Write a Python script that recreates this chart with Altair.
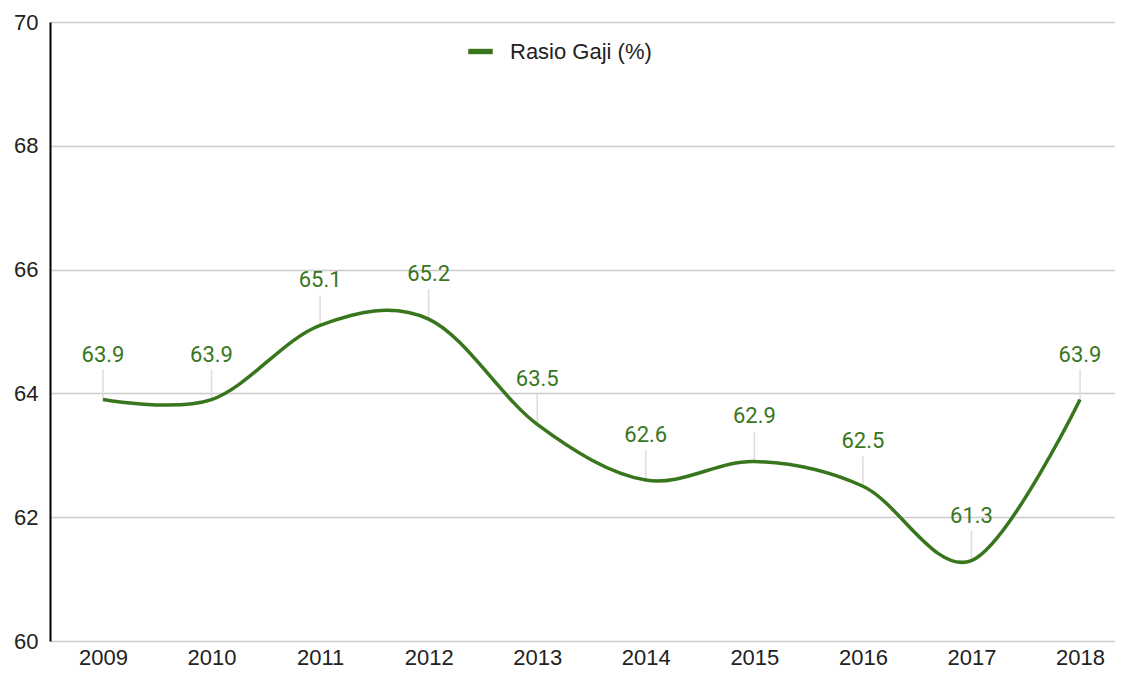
import altair as alt
import pandas as pd

years = [2009, 2010, 2011, 2012, 2013, 2014, 2015, 2016, 2017, 2018]
values = [63.9, 63.9, 65.1, 65.2, 63.5, 62.6, 62.9, 62.5, 61.3, 63.9]
series = "Rasio Gaji (%)"
y_ticks = [60, 62, 64, 66, 68, 70]

df = pd.DataFrame({"year": years, "value": values, "series": [series] * len(years)})

GREEN = "#38761d"
W, H = 1065, 619

x = alt.X("year:Q", scale=alt.Scale(domain=[2008.512, 2018.322], nice=False, zero=False),
          axis=alt.Axis(title=None, values=years, format="d", labelAngle=0, ticks=False,
                        domain=False, grid=False,
                        labelFont="Liberation Sans", labelFontSize=22, labelColor="#222222",
                        labelPadding=6))
y = alt.Y("value:Q", scale=alt.Scale(domain=[60, 70], nice=False, zero=False),
          axis=alt.Axis(title=None, values=y_ticks, ticks=False, domain=True, domainColor="#000000",
                        domainWidth=2, grid=True, gridColor="#cccccc", gridWidth=1.5,
                        labelFont="Liberation Sans", labelFontSize=22, labelColor="#222222",
                        labelPadding=12))

base = alt.Chart(df)

leaders = base.mark_rule(color="#dddddd", strokeWidth=1.5, y2Offset=-30).encode(
    x=x, y=y, y2="value:Q"
)

line = base.mark_line(interpolate="cardinal", strokeWidth=3.5).encode(
    x=x, y=y,
    color=alt.Color("series:N", scale=alt.Scale(domain=[series], range=[GREEN]),
                    legend=alt.Legend(title=None, orient="none", legendX=418, legendY=17,
                                      symbolType="M-1,-0.22H1V0.22H-1Z", symbolSize=600,
                                      symbolFillColor=GREEN, symbolStrokeWidth=0,
                                      labelFont="Liberation Sans", labelFontSize=22,
                                      labelColor="#222222", labelOffset=17))
)

labels = base.mark_text(dy=-45, font="Roboto", fontSize=22, color=GREEN, baseline="middle").encode(
    x=x, y=y, text=alt.Text("value:Q", format=".1f")
)

chart = alt.layer(leaders, line, labels).properties(
    width=W, height=H,
    autosize=alt.AutoSizeParams(type="none"),
    padding={"left": 42, "top": 14, "right": 0, "bottom": 27},
).configure_view(stroke=None).configure(background="white")

chart.save("out.html", embed_options={"renderer": "svg", "actions": False})
